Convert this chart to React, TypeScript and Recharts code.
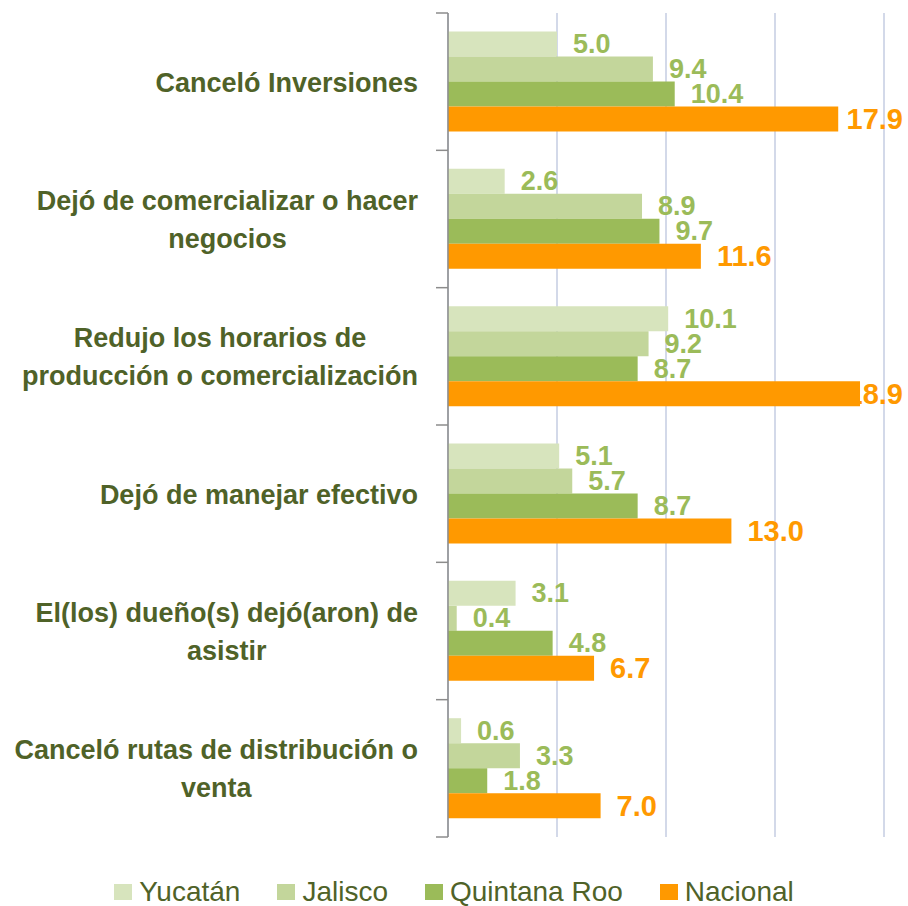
import React from 'react';
import { BarChart, Bar, XAxis, YAxis, CartesianGrid, LabelList, Legend } from 'recharts';

// ---------- data ----------
const categoryLines: string[][] = [
  ['Canceló Inversiones'],
  ['Dejó de comercializar o hacer', 'negocios'],
  ['Redujo los horarios de', 'producción o comercialización'],
  ['Dejó de manejar efectivo'],
  ['El(los) dueño(s) dejó(aron) de', 'asistir'],
  ['Canceló rutas de distribución o', 'venta'],
];
const categories: string[] = categoryLines.map((l) => l.join(' '));

const seriesNames = ['Yucatán', 'Jalisco', 'Quintana Roo', 'Nacional'];
const yucatan = [5.0, 2.6, 10.1, 5.1, 3.1, 0.6];
const jalisco = [9.4, 8.9, 9.2, 5.7, 0.4, 3.3];
const quintanaRoo = [10.4, 9.7, 8.7, 8.7, 4.8, 1.8];
const nacional = [17.9, 11.6, 18.9, 13.0, 6.7, 7.0];
const xTicks = [0, 5, 10, 15, 20];

const seriesKeys = ['yucatan', 'jalisco', 'quintanaRoo', 'nacional'];
const seriesColors = ['#D7E4BD', '#C3D69B', '#9BBB59', '#FF9900'];
const labelColors = ['#9BBB59', '#9BBB59', '#9BBB59', '#FF9900'];
const labelSizes = [27, 27, 27, 29];

const data = categories.map((name, i) => ({
  name,
  yucatan: yucatan[i],
  jalisco: jalisco[i],
  quintanaRoo: quintanaRoo[i],
  nacional: nacional[i],
}));

// ---------- layout / style ----------
const W = 908;
const H = 906;
const FONT = '"Liberation Sans", Arial, sans-serif';
const TEXT_DARK = '#4F6228';
const CAT_SIZE = 27;
const TICK_MARGIN = 30;
const MARGIN = { top: 13, right: 24, bottom: 69, left: 0 };
const FALLBACK_HALF_BAND = (H - MARGIN.top - MARGIN.bottom) / categories.length / 2;
const LABEL_LIMIT = W - 5;

let ctx: CanvasRenderingContext2D | null = null;
function measure(text: string, font: string, perChar: number): number {
  try {
    if (!ctx) ctx = document.createElement('canvas').getContext('2d');
    if (ctx) {
      ctx.font = font;
      return ctx.measureText(text).width;
    }
  } catch (e) {
    // ignore
  }
  return text.length * perChar;
}

const CategoryTick = (props: any) => {
  const { x, y, payload, index } = props;
  const idx = categories.indexOf(payload.value);
  const lines = idx >= 0 ? categoryLines[idx] : [String(payload.value)];
  const font = `bold ${CAT_SIZE}px "Liberation Sans"`;
  const maxW = Math.max(...lines.map((l) => measure(l, font, CAT_SIZE * 0.52)));
  const cx = x - maxW / 2;
  const lineH = 38;
  const firstBaseline = y + 10 - ((lines.length - 1) * lineH) / 2;
  const half = payload && typeof payload.offset === 'number' && payload.offset > 0 ? payload.offset : FALLBACK_HALF_BAND;
  const axisX = x + TICK_MARGIN;
  return (
    <g>
      <text
        textAnchor="middle"
        fill={TEXT_DARK}
        fontSize={CAT_SIZE}
        fontWeight="bold"
        fontFamily={FONT}
      >
        {lines.map((l, i) => (
          <tspan key={i} x={cx} y={firstBaseline + i * lineH}>
            {l}
          </tspan>
        ))}
      </text>
      {index === 0 && (
        <line x1={axisX - 12} x2={axisX} y1={y - half} y2={y - half} stroke="#8C8C8C" strokeWidth={1.5} />
      )}
      <line x1={axisX - 12} x2={axisX} y1={y + half} y2={y + half} stroke="#8C8C8C" strokeWidth={1.5} />
    </g>
  );
};

const makeValueLabel = (color: string, size: number) => (props: any) => {
  const { x, y, width, height, value } = props;
  const text = Number(value).toFixed(1);
  const w = measure(text, `bold ${size}px "Liberation Sans"`, size * 0.55);
  let tx = Number(x) + Number(width) + 16;
  if (tx + w > LABEL_LIMIT) tx = LABEL_LIMIT - w;
  return (
    <text
      x={tx}
      y={Number(y) + Number(height) / 2}
      dominantBaseline="central"
      fill={color}
      fontSize={size}
      fontWeight="bold"
      fontFamily={FONT}
    >
      {text}
    </text>
  );
};

const LegendContent = () => (
  <div
    style={{
      display: 'flex',
      justifyContent: 'center',
      alignItems: 'center',
      height: 26,
      fontFamily: FONT,
      fontSize: 28,
      color: TEXT_DARK,
    }}
  >
    {seriesNames.map((n, i) => (
      <div key={n} style={{ display: 'flex', alignItems: 'center', marginLeft: i === 0 ? 0 : 37 }}>
        <span style={{ display: 'inline-block', width: 18, height: 16, background: seriesColors[i], marginRight: 7 }} />
        <span style={{ lineHeight: '26px', whiteSpace: 'nowrap' }}>{n}</span>
      </div>
    ))}
  </div>
);

export default function App() {
  return (
    <div style={{ position: 'absolute', left: 0, top: 0, width: W, height: H, background: '#fff' }}>
      <BarChart
        width={W}
        height={H}
        data={data}
        layout="vertical"
        margin={MARGIN}
        barCategoryGap="13.5%"
        barGap={0}
        style={{ fontFamily: FONT }}
      >
        <CartesianGrid horizontal={false} stroke="#D3D9E9" strokeWidth={2} />
        <XAxis type="number" domain={[0, 20]} ticks={xTicks} hide />
        <YAxis
          type="category"
          dataKey="name"
          width={448}
          tickSize={0}
          tickMargin={TICK_MARGIN}
          tickLine={false}
          interval={0}
          axisLine={{ stroke: '#8C8C8C', strokeWidth: 1.5 }}
          tick={(p: any) => <CategoryTick {...p} />}
        />
        {seriesKeys.map((k, i) => (
          <Bar key={k} dataKey={k} name={seriesNames[i]} fill={seriesColors[i]} isAnimationActive={false}>
            <LabelList dataKey={k} content={makeValueLabel(labelColors[i], labelSizes[i])} />
          </Bar>
        ))}
        <Legend
          layout="horizontal"
          verticalAlign="middle"
          align="center"
          wrapperStyle={{ top: 879, left: 0, width: W }}
          content={() => <LegendContent />}
        />
      </BarChart>
    </div>
  );
}
